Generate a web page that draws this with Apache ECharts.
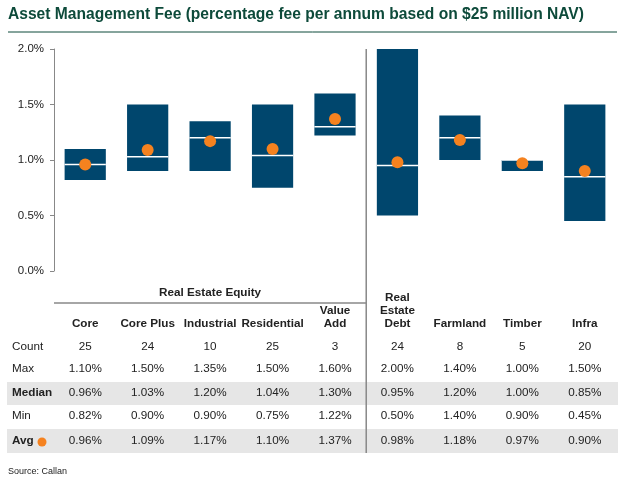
<!DOCTYPE html>
<html><head><meta charset="utf-8">
<script src="https://cdn.jsdelivr.net/npm/echarts@6/dist/echarts.min.js"></script>
<style>html,body{margin:0;padding:0;background:#fff}#c{width:623px;height:481px}</style>
</head><body><div id="c"></div>
<script>
const categories = ['Core','Core Plus','Industrial','Residential','Value Add','Real Estate Debt','Farmland','Timber','Infra'];
const headerLabels = ['Core','Core Plus','Industrial','Residential','Value\nAdd','Real\nEstate\nDebt','Farmland','Timber','Infra'];
const counts = [25,24,10,25,3,24,8,5,20];
const maxVals = [1.10,1.50,1.35,1.50,1.60,2.00,1.40,1.00,1.50];
const medianVals = [0.96,1.03,1.20,1.04,1.30,0.95,1.20,1.00,0.85];
const minVals = [0.82,0.90,0.90,0.75,1.22,0.50,1.00,0.90,0.45];      // bar lows as drawn
const minTableVals = [0.82,0.90,0.90,0.75,1.22,0.50,1.40,0.90,0.45]; // as printed in the table
const avgVals = [0.96,1.09,1.17,1.10,1.37,0.98,1.18,0.97,0.90];
const yTicks = [0, 0.5, 1.0, 1.5, 2.0];

const FONT = '"Liberation Sans", Arial, sans-serif';
const NAVY = '#00466d';
const ORANGE = '#f5821f';
const TXT = '#222222';
const FS = '11.7px ';

const chart = echarts.init(document.getElementById('c'), null, {renderer:'canvas'});
const boxData = categories.map((c,i)=>[i, minVals[i], maxVals[i], medianVals[i]]);
const avgData = categories.map((c,i)=>[i, avgVals[i]]);

chart.setOption({
  animation:false,
  backgroundColor:'#fff',
  textStyle:{fontFamily:FONT},
  grid:{left:54, right:7, top:49, bottom:210, containLabel:false},
  xAxis:{type:'category', data:categories, show:false, boundaryGap:true},
  yAxis:{type:'value', min:yTicks[0], max:yTicks[yTicks.length-1], interval:0.5,
    axisLine:{show:true, lineStyle:{color:'#888', width:1}},
    axisTick:{show:true, inside:false, length:4, lineStyle:{color:'#888'}},
    splitLine:{show:false},
    axisLabel:{formatter:v=>v.toFixed(1)+'%', fontSize:11.5, color:TXT, margin:10, fontFamily:FONT}
  },
  series:[
    {type:'custom', data:boxData, encode:{x:0,y:[1,2]},
     renderItem:function(params, api){
       const x = api.value(0);
       const lo = api.coord([x, api.value(1)]);
       const hi = api.coord([x, api.value(2)]);
       const md = api.coord([x, api.value(3)]);
       const w = api.size([1,0])[0]*0.66;
       return {type:'group', children:[
         {type:'rect', shape:{x:lo[0]-w/2, y:hi[1], width:w, height:lo[1]-hi[1]}, style:{fill:NAVY}},
         {type:'line', shape:{x1:lo[0]-w/2, y1:md[1], x2:lo[0]+w/2, y2:md[1]}, style:{stroke:'#fff', lineWidth:1.5}}
       ]};
     }, z:2},
    {type:'scatter', data:avgData, symbol:'circle', symbolSize:12, itemStyle:{color:ORANGE, opacity:1}, z:3}
  ]
});

const xs = categories.map((c,i)=>chart.convertToPixel({xAxisIndex:0}, i));
const yTop = chart.convertToPixel({yAxisIndex:0}, yTicks[yTicks.length-1]);
const sepX = (xs[4]+xs[5])/2;
const g = [];
// title
g.push({type:'text', left:8, top:7, style:{text:'Asset Management Fee (percentage fee per annum based on $25 million NAV)', font:'bold 15.6px '+FONT, fill:'#0d4a3a'}});
g.push({type:'line', shape:{x1:8, y1:32, x2:617, y2:32}, style:{stroke:'#0d4a3a', lineWidth:1}});
// bands
g.push({type:'rect', shape:{x:7, y:382, width:611, height:23}, style:{fill:'#e6e6e6'}, z:-1});
g.push({type:'rect', shape:{x:7, y:429, width:611, height:24}, style:{fill:'#e6e6e6'}, z:-1});
// separator
g.push({type:'line', shape:{x1:sepX, y1:yTop, x2:sepX, y2:453}, style:{stroke:'#888', lineWidth:1.5}});
// group header
g.push({type:'text', x:(xs[0]+xs[4])/2, y:293, style:{text:'Real Estate Equity', font:'bold '+FS+FONT, fill:TXT, textAlign:'center', textVerticalAlign:'middle'}});
g.push({type:'line', shape:{x1:54, y1:303, x2:sepX, y2:303}, style:{stroke:'#888', lineWidth:1.5}});
// column headers
headerLabels.forEach((h,i)=>{
  g.push({type:'text', x:xs[i], y:330, style:{text:h, font:'bold '+FS+FONT, fill:TXT, textAlign:'center', textVerticalAlign:'bottom', lineHeight:13}});
});
const rows = [
  {label:'Count', y:347, bold:false, vals:counts.map(v=>String(v))},
  {label:'Max', y:369, bold:false, vals:maxVals.map(v=>v.toFixed(2)+'%')},
  {label:'Median', y:393, bold:true, vals:medianVals.map(v=>v.toFixed(2)+'%')},
  {label:'Min', y:416, bold:false, vals:minTableVals.map(v=>v.toFixed(2)+'%')},
  {label:'Avg', y:441, bold:true, vals:avgVals.map(v=>v.toFixed(2)+'%')}
];
rows.forEach(r=>{
  g.push({type:'text', x:12, y:r.y, style:{text:r.label, font:(r.bold?'bold ':'')+FS+FONT, fill:TXT, textAlign:'left', textVerticalAlign:'middle'}});
  r.vals.forEach((t,i)=>{
    g.push({type:'text', x:xs[i], y:r.y, style:{text:t, font:FS+FONT, fill:TXT, textAlign:'center', textVerticalAlign:'middle'}});
  });
});
g.push({type:'circle', shape:{cx:42, cy:442, r:4.5}, style:{fill:ORANGE}});
g.push({type:'text', x:8, y:472, style:{text:'Source: Callan', font:'9px '+FONT, fill:TXT, textVerticalAlign:'middle'}});
chart.setOption({graphic:g});
</script></body></html>
